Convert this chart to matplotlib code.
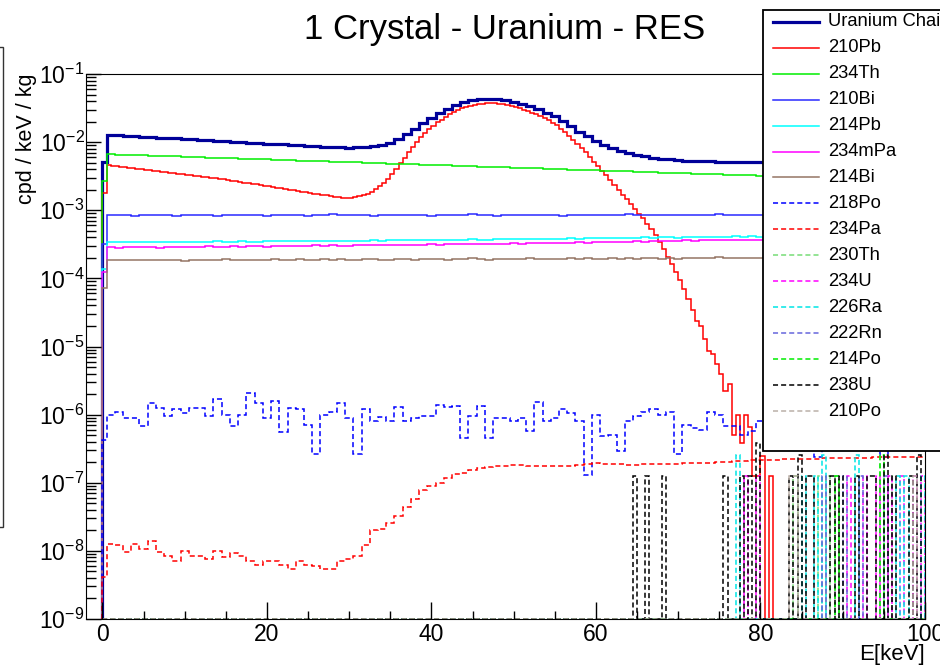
import numpy as np
import matplotlib.pyplot as plt
from matplotlib.lines import Line2D
from matplotlib.patches import Rectangle
from matplotlib.ticker import LogLocator, MultipleLocator, NullFormatter

plt.rcParams['font.family'] = ['Liberation Sans', 'DejaVu Sans']
plt.rcParams['mathtext.fontset'] = 'custom'
plt.rcParams['mathtext.rm'] = 'Liberation Sans'
plt.rcParams['mathtext.it'] = 'Liberation Sans:italic'
plt.rcParams['mathtext.bf'] = 'Liberation Sans:bold'

# binning: one 0-0.5 keV bin, then 1 keV bins centred on whole keV
edges_1kev = np.concatenate([[0.0, 0.5], np.arange(1.5, 101.0, 1.0)])
# plain 0.5 keV bins
edges_half = np.arange(0.0, 100.01, 0.5)

# --- continuous spectra (cpd/keV/kg) ---
chain = np.array([
    5.1,
    12.9, 12.65, 12.45, 12.25, 12.06, 11.86, 11.69, 11.50, 11.34, 11.16,
    11.0, 10.85, 10.68, 10.53, 10.36, 10.19, 10.02, 9.85, 9.69, 9.54,
    9.41, 9.26, 9.12, 8.99, 8.87, 8.74, 8.62, 8.50, 8.38, 8.33,
    8.34, 8.44, 8.64, 9.02, 9.72, 11.03, 12.99, 15.7, 19.0, 22.8,
    26.8, 30.8, 34.8, 38.2, 40.9, 42.6, 43.3, 42.9, 41.5, 39.4,
    36.6, 33.4, 30.4, 27.2, 23.8, 20.4, 17.1, 14.3, 12.2, 10.4,
    9.14, 8.14, 7.41, 6.86, 6.46, 6.17, 5.91, 5.70, 5.56, 5.45,
    5.37, 5.31, 5.27, 5.22, 5.19, 5.16, 5.14, 5.11, 5.08, 5.05,
    5.04, 5.03, 5.03, 5.03, 5.03, 5.02, 5.02, 5.02, 5.02, 5.01,
    5.02, 5.02, 5.02, 5.02, 5.02, 5.02, 5.02, 5.02, 5.02, 5.02,
]) * 1e-3

pb210 = np.array([
    1.80, 4.58, 4.51, 4.43, 4.36, 4.28, 4.22, 4.14, 4.07, 4.01,
    3.94, 3.87, 3.81, 3.75, 3.69, 3.62, 3.56, 3.51, 3.45, 3.39,
    3.33, 3.28, 3.23, 3.17, 3.12, 3.07, 3.02, 2.96, 2.92, 2.87,
    2.79, 2.73, 2.67, 2.61, 2.55, 2.50, 2.44, 2.39, 2.34, 2.29,
    2.24, 2.19, 2.14, 2.10, 2.05, 2.01, 1.96, 1.92, 1.88, 1.84,
    1.80, 1.76, 1.72, 1.69, 1.65, 1.61, 1.58, 1.55, 1.52, 1.51,
    1.52, 1.55, 1.60, 1.68, 1.76, 1.88, 2.04, 2.24, 2.51, 2.85,
    3.39, 4.07, 4.90, 5.89, 7.08, 8.51, 10.0, 11.7, 13.5, 15.5,
    17.4, 19.5, 21.4, 23.4, 25.7, 27.5, 29.5, 31.3, 32.7, 34.1,
    35.3, 36.1, 36.7, 37.1, 37.2, 37.0, 36.6, 35.9, 35.1, 34.0,
    32.7, 31.3, 29.9, 28.5, 27.2, 26.0, 24.5, 22.9, 21.1, 19.3,
    17.6, 15.8, 14.1, 12.3, 10.7, 9.33, 8.13, 7.08, 6.03, 5.13,
    4.42, 3.80, 3.24, 2.75, 2.34, 2.00, 1.70, 1.45, 1.23, 1.05,
    0.891, 0.759, 0.631, 0.525, 0.427, 0.339, 0.269, 0.209, 0.162, 0.123,
    0.0933, 0.0692, 0.0501, 0.034, 0.024, 0.020, 0.013, 0.0086, 0.0078, 0.0055,
    0.0040, 0.0022, 0.0028, 0.0005, 0.0010, 0.00038, 0.0010, 0.00065, 0.000127, 0.000127,
    0.00025, 0.0, 0.000127, 0.0, 0.0, 0.0, 0.0, 0.0, 0.0, 0.0,
    0.0, 0.0, 0.0, 0.0, 0.0, 0.0, 0.0, 0.0, 0.0, 0.0,
    0.0, 0.0, 0.0, 0.0, 0.0, 0.0, 0.0, 0.0, 0.0, 0.0,
    0.0, 0.0, 0.0, 0.0, 0.0, 0.0, 0.0, 0.0, 0.0, 0.0,
]) * 1e-3

th234 = np.array([
    2.7,
    6.64, 6.58, 6.52, 6.46, 6.40, 6.34, 6.28, 6.22, 6.17, 6.11,
    6.05, 6.00, 5.94, 5.89, 5.83, 5.78, 5.73, 5.67, 5.62, 5.57,
    5.52, 5.47, 5.42, 5.37, 5.32, 5.27, 5.22, 5.17, 5.12, 5.08,
    5.03, 4.98, 4.94, 4.89, 4.85, 4.80, 4.76, 4.72, 4.67, 4.63,
    4.59, 4.55, 4.50, 4.46, 4.42, 4.38, 4.34, 4.30, 4.26, 4.22,
    4.18, 4.15, 4.11, 4.07, 4.03, 4.00, 3.96, 3.92, 3.89, 3.85,
    3.82, 3.78, 3.75, 3.71, 3.68, 3.65, 3.61, 3.58, 3.55, 3.52,
    3.48, 3.45, 3.42, 3.39, 3.36, 3.33, 3.30, 3.27, 3.24, 3.21,
    3.20, 3.19, 3.19, 3.18, 3.18, 3.17, 3.17, 3.16, 3.16, 3.15,
    3.15, 3.15, 3.14, 3.14, 3.14, 3.13, 3.13, 3.13, 3.12, 3.12,
]) * 1e-3

bi210 = np.array([
    0.32,
    0.84, 0.86, 0.85, 0.83, 0.85, 0.86, 0.84, 0.85, 0.83, 0.84,
    0.85, 0.86, 0.84, 0.83, 0.85, 0.84, 0.86, 0.85, 0.84, 0.83,
    0.85, 0.84, 0.86, 0.85, 0.83, 0.84, 0.85, 0.87, 0.84, 0.85,
    0.84, 0.86, 0.83, 0.85, 0.84, 0.86, 0.85, 0.84, 0.85, 0.83,
    0.85, 0.86, 0.84, 0.85, 0.87, 0.84, 0.85, 0.83, 0.84, 0.86,
    0.85, 0.84, 0.86, 0.85, 0.84, 0.83, 0.85, 0.86, 0.84, 0.85,
    0.86, 0.84, 0.85, 0.87, 0.85, 0.84, 0.86, 0.85, 0.84, 0.86,
    0.85, 0.84, 0.86, 0.85, 0.87, 0.85, 0.84, 0.86, 0.85, 0.86,
    0.85, 0.87, 0.85, 0.86, 0.84, 0.86, 0.85, 0.87, 0.86, 0.85,
    0.86, 0.85, 0.87, 0.86, 0.85, 0.86, 0.87, 0.85, 0.86, 0.86,
]) * 1e-3

pb214 = np.array([
    0.136,
    0.341, 0.339, 0.344, 0.340, 0.338, 0.343, 0.345, 0.339, 0.342, 0.346,
    0.344, 0.341, 0.347, 0.349, 0.343, 0.346, 0.350, 0.347, 0.345, 0.351,
    0.349, 0.353, 0.348, 0.352, 0.355, 0.351, 0.354, 0.358, 0.353, 0.356,
    0.359, 0.355, 0.360, 0.358, 0.362, 0.366, 0.361, 0.363, 0.367, 0.364,
    0.368, 0.371, 0.366, 0.370, 0.374, 0.369, 0.372, 0.377, 0.373, 0.376,
    0.380, 0.377, 0.382, 0.379, 0.384, 0.381, 0.387, 0.383, 0.388, 0.391,
    0.386, 0.392, 0.395, 0.390, 0.396, 0.399, 0.394, 0.400, 0.403, 0.398,
    0.404, 0.407, 0.402, 0.408, 0.411, 0.406, 0.412, 0.409, 0.414, 0.411,
    0.416, 0.413, 0.418, 0.415, 0.420, 0.417, 0.421, 0.419, 0.423, 0.420,
    0.424, 0.421, 0.426, 0.423, 0.427, 0.425, 0.422, 0.428, 0.426, 0.429,
]) * 1e-3

pa234m = np.array([
    0.123,
    0.286, 0.283, 0.288, 0.291, 0.284, 0.287, 0.282, 0.289, 0.292, 0.286,
    0.290, 0.287, 0.294, 0.289, 0.292, 0.296, 0.290, 0.295, 0.298, 0.293,
    0.297, 0.300, 0.295, 0.302, 0.298, 0.304, 0.300, 0.306, 0.303, 0.299,
    0.305, 0.309, 0.304, 0.310, 0.307, 0.312, 0.308, 0.314, 0.311, 0.316,
    0.313, 0.318, 0.315, 0.320, 0.317, 0.323, 0.319, 0.325, 0.322, 0.327,
    0.324, 0.330, 0.327, 0.333, 0.329, 0.335, 0.332, 0.338, 0.335, 0.341,
    0.338, 0.344, 0.341, 0.347, 0.350, 0.346, 0.352, 0.355, 0.351, 0.357,
    0.360, 0.356, 0.362, 0.365, 0.361, 0.366, 0.369, 0.364, 0.368, 0.371,
    0.367, 0.370, 0.366, 0.369, 0.372, 0.368, 0.371, 0.367, 0.370, 0.366,
    0.369, 0.365, 0.368, 0.371, 0.366, 0.369, 0.365, 0.368, 0.364, 0.367,
]) * 1e-3

bi214 = np.array([
    0.073,
    0.186, 0.184, 0.188, 0.185, 0.183, 0.187, 0.189, 0.184, 0.186, 0.182,
    0.185, 0.188, 0.184, 0.187, 0.190, 0.185, 0.183, 0.188, 0.186, 0.189,
    0.192, 0.187, 0.185, 0.190, 0.188, 0.186, 0.191, 0.189, 0.193, 0.188,
    0.186, 0.190, 0.192, 0.187, 0.189, 0.194, 0.190, 0.188, 0.192, 0.195,
    0.191, 0.189, 0.193, 0.190, 0.196, 0.192, 0.188, 0.191, 0.194, 0.190,
    0.193, 0.197, 0.192, 0.195, 0.191, 0.194, 0.198, 0.193, 0.196, 0.192,
    0.195, 0.199, 0.194, 0.197, 0.193, 0.196, 0.200, 0.195, 0.198, 0.194,
    0.197, 0.201, 0.196, 0.199, 0.203, 0.197, 0.200, 0.198, 0.202, 0.199,
    0.203, 0.200, 0.204, 0.201, 0.199, 0.203, 0.206, 0.201, 0.204, 0.200,
    0.203, 0.206, 0.202, 0.205, 0.201, 0.204, 0.207, 0.202, 0.205, 0.203,
]) * 1e-3

po218 = np.array([
    0.43,
    1.0, 1.1, 0.9, 0.9, 0.67, 1.5, 1.25, 0.95, 1.2, 1.05,
    1.25, 1.25, 0.95, 1.7, 1.0, 0.67, 1.0, 2.1, 1.5, 0.9,
    1.6, 0.55, 1.25, 1.2, 0.7, 0.26, 1.0, 1.1, 1.5, 0.9,
    0.26, 1.2, 0.8, 0.92, 0.8, 1.3, 0.8, 0.9, 0.95, 0.95,
    1.4, 1.3, 1.35, 0.45, 0.95, 1.35, 0.45, 0.9, 0.9, 0.8,
    0.9, 0.57, 1.55, 0.8, 0.9, 1.2, 1.05, 0.8, 0.13, 1.0,
    0.48, 0.5, 0.29, 0.8, 0.95, 1.1, 1.2, 1.0, 1.1, 0.26,
    0.7, 0.64, 0.6, 1.1, 1.0, 0.67, 0.67, 0.5, 0.57, 0.8,
    1.0, 1.1, 0.9, 1.2, 0.8, 1.0, 0.24, 1.1, 0.9, 1.0,
    1.2, 0.9, 1.0, 0.8, 0.24, 1.1, 0.9, 1.0, 1.2, 0.9,
]) * 1e-6

pa234 = np.array([
    0.42,
    1.27, 1.2, 0.95, 1.27, 1.07, 1.4, 0.95, 0.85, 0.72, 1.0,
    0.85, 0.85, 0.76, 1.0, 0.8, 0.92, 0.85, 0.72, 0.63, 0.72,
    0.72, 0.61, 0.54, 0.7, 0.61, 0.59, 0.54, 0.54, 0.72, 0.76,
    0.85, 1.24, 2.0, 2.1, 2.6, 3.3, 4.4, 5.8, 7.7, 9.1,
    10.0, 11.8, 13.5, 14.0, 15.2, 16.3, 17.0, 17.5, 17.8, 18.0,
    18.0, 17.8, 17.8, 17.7, 17.7, 17.6, 17.8, 18.2, 18.8, 19.2,
    19.0, 18.8, 18.6, 18.5, 18.5, 18.6, 18.8, 18.8, 18.8, 19.0,
    19.2, 19.4, 19.6, 19.8, 20.0, 20.3, 20.6, 21.0, 21.3, 21.5,
    21.7, 21.9, 22.0, 22.2, 22.3, 22.5, 22.6, 22.8, 23.0, 23.0,
    23.2, 23.3, 23.3, 23.5, 23.6, 23.7, 23.8, 23.9, 24.0, 24.0,
]) * 1e-8

# --- low statistics spectra: energies (keV, 0.5 keV bin centres) of single counts ---
one_count = 1.27e-7
th230_hits = [84.25, 87.25, 88.25, 89.25, 94.75, 94.75, 95.75]
u234_hits = [78.25, 79.75, 90.75, 92.75, 94.25, 95.75, 97.25, 98.75, 99.75]
ra226_hits = [77.25, 77.25, 85.25, 86.75, 87.75, 87.75, 91.75, 91.75, 96.75, 97.75, 99.75]
rn222_hits = [87.75, 90.25, 92.25, 95.25]
po214_hits = [89.25, 94.75, 94.75]
u238_hits = [64.75, 66.25, 68.25, 75.75, 77.75, 78.75, 79.75, 79.75, 79.75,
             83.75, 84.75, 84.75, 85.75, 86.25, 88.75, 89.75, 91.75, 93.25,
             93.75, 95.25, 95.25, 96.25, 98.25, 99.25, 99.25]
po210_hits = [83.75, 84.25, 98.75]


def from_hits(hits):
    counts, _ = np.histogram(hits, bins=edges_half)
    return counts * one_count


DASH = (0, (3.3, 2.0))
series = [
    ("Uranium Chain", edges_1kev, chain, "#000099", 2.3, "-"),
    ("210Pb", edges_half, pb210, "#ff0000", 1.1, "-"),
    ("234Th", edges_1kev, th234, "#00ee00", 1.1, "-"),
    ("210Bi", edges_1kev, bi210, "#2a2aff", 1.1, "-"),
    ("214Pb", edges_1kev, pb214, "#00ffff", 1.1, "-"),
    ("234mPa", edges_1kev, pa234m, "#ff00ff", 1.1, "-"),
    ("214Bi", edges_1kev, bi214, "#957565", 1.1, "-"),
    ("218Po", edges_1kev, po218, "#0000ff", 1.1, DASH),
    ("234Pa", edges_1kev, pa234, "#ff0000", 1.1, DASH),
    ("230Th", edges_half, from_hits(th230_hits), "#77dd77", 1.1, DASH),
    ("234U", edges_half, from_hits(u234_hits), "#ff00ff", 1.1, DASH),
    ("226Ra", edges_half, from_hits(ra226_hits), "#00e5e5", 1.1, DASH),
    ("222Rn", edges_half, from_hits(rn222_hits), "#6666dd", 1.1, DASH),
    ("214Po", edges_half, from_hits(po214_hits), "#00ee00", 1.1, DASH),
    ("238U", edges_half, from_hits(u238_hits), "#000000", 1.1, DASH),
    ("210Po", edges_half, from_hits(po210_hits), "#bbb0a8", 1.1, DASH),
]

fig = plt.figure(figsize=(9.4, 6.65), dpi=100)
ax = fig.add_axes([86 / 940, 1 - 619 / 665, 839 / 940, 545 / 665])

floor = 1e-9
for label, edges, vals, color, lw, ls in series:
    ax.stairs(np.maximum(vals, floor), edges, baseline=floor,
              color=color, lw=lw, linestyle=ls)

ax.set_xlim(-2, 100)
ax.set_yscale('log')
ax.set_ylim(1e-9, 1e-1)
ax.xaxis.set_major_locator(MultipleLocator(20))
ax.xaxis.set_minor_locator(MultipleLocator(5))
ax.yaxis.set_major_locator(LogLocator(base=10, numticks=15))
ax.yaxis.set_minor_locator(LogLocator(base=10, subs=np.arange(2, 10), numticks=15))
ax.yaxis.set_minor_formatter(NullFormatter())
ax.tick_params(which='both', direction='in', top=False, right=False, width=1)
ax.tick_params(axis='x', which='major', length=12, labelsize=16.5, pad=3)
ax.tick_params(axis='x', which='minor', length=6)
ax.tick_params(axis='y', which='major', length=11, labelsize=16.5, pad=1)
ax.tick_params(axis='y', which='minor', length=7.5)

ax.set_xlabel('E[keV]', fontsize=16, loc='right')
ax.xaxis.set_label_coords(1.0, -0.046)
ax.set_ylabel('cpd / keV / kg', fontsize=15.5, loc='top')
ax.yaxis.set_label_coords(-0.058, 1.0)

fig.text(505 / 940, 1 - 30 / 665, '1 Crystal - Uranium - RES',
         ha='center', va='center', fontsize=25)

# edge of a neighbouring pad on the far left
fig.add_artist(Rectangle((-0.05, 1 - 527 / 665), 0.05 + 3 / 940, 480 / 665,
                         transform=fig.transFigure, fill=False,
                         edgecolor='#333333', lw=1))

# legend box (runs off the right edge like the original)
fig.add_artist(Rectangle((763 / 940, 1 - 451 / 665), 0.3, 441 / 665,
                         transform=fig.transFigure, facecolor='white',
                         edgecolor='black', lw=1.3))
for i, (label, edges, vals, color, lw, ls) in enumerate(series):
    y = 1 - (21.7 + 25.96 * i) / 665
    fig.add_artist(Line2D([773 / 940, 819 / 940], [y, y], color=color, lw=lw,
                          linestyle=ls, transform=fig.transFigure))
    fig.text(828 / 940, y, label, ha='left', va='center', fontsize=13.2)

fig.savefig('out.png', dpi=100)
